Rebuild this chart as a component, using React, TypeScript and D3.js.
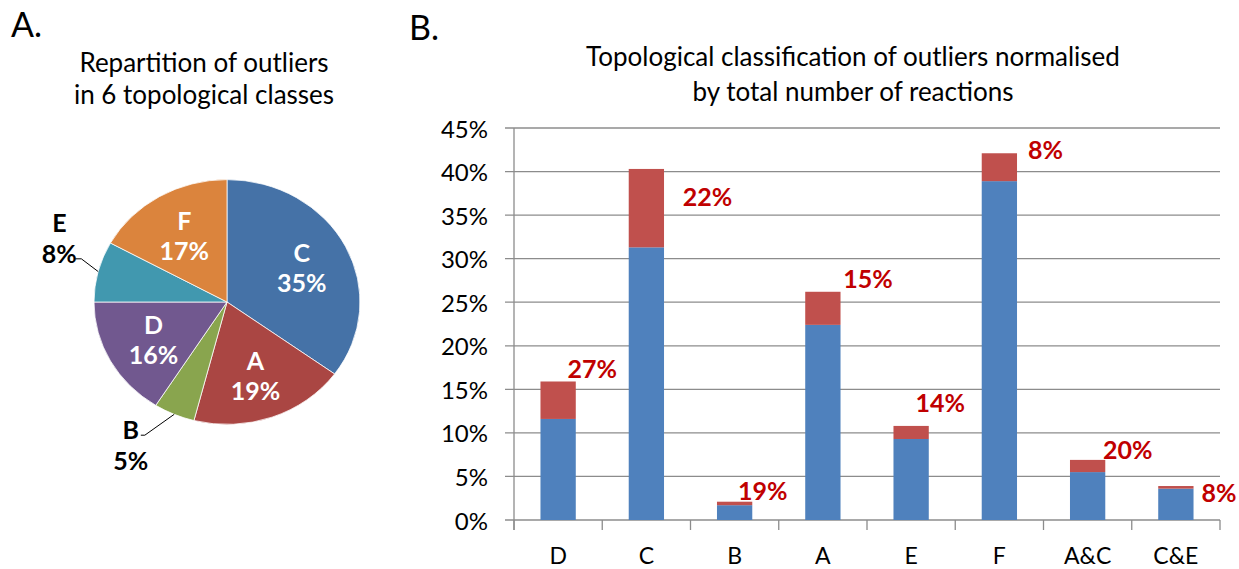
import React from 'react';
import * as d3 from 'd3';

// ---------- Data ----------
const pieClasses = ['C', 'A', 'B', 'D', 'E', 'F'];
const pieShares = [35, 19, 5, 16, 8, 17];
const pieColors = ['#4572A7', '#AA4643', '#89A54E', '#71588F', '#4198AF', '#DB843D'];
const pieOutsideLabels = ['B', 'E'];

const barCategories = ['D', 'C', 'B', 'A', 'E', 'F', 'A&C', 'C&E'];
const blueValues = [11.6, 31.3, 1.7, 22.4, 9.3, 38.9, 5.5, 3.6];
const redValues = [4.3, 9.0, 0.4, 3.8, 1.5, 3.2, 1.4, 0.3];
const redLabels = ['27%', '22%', '19%', '15%', '14%', '8%', '20%', '8%'];
const labelLevels = [17.5, 37.2, 3.45, 27.8, 13.5, 42.6, 8.15, 3.2];
const yTicks = [0, 5, 10, 15, 20, 25, 30, 35, 40, 45];

// ---------- Layout ----------
const W = 1239;
const H = 569;
const FONT = "Lato, 'Open Sans', sans-serif";
const labelDx = [34, 61, 28, 45, 29, 46, 40, 43];

export default function App() {
  // Pie
  const pcx = 227, pcy = 302, R = 133, ry = 122.4;
  const sy = ry / R;
  const pieData = pieClasses.map((c, i) => ({ c, v: pieShares[i], color: pieColors[i] }));
  const arcs = d3.pie<any>().sort(null).value((d) => d.v).startAngle(0).endAngle(2 * Math.PI)(pieData);
  const arcGen = d3.arc<any>().innerRadius(0).outerRadius(R);
  const polar = (ang: number, r: number) => [pcx + r * Math.sin(ang), pcy - r * Math.cos(ang) * sy];

  // Bars
  const x = d3.scaleBand().domain(barCategories).range([514, 1220]).paddingInner(0.6).paddingOuter(0.3);
  const y = d3.scaleLinear().domain([0, 45]).range([520, 128]);
  const step = x.step();
  const boundaries = d3.range(barCategories.length + 1).map((i) => 514 + i * step);

  return (
    <svg width={W} height={H} style={{ position: 'absolute', left: 0, top: 0, background: '#fff' }} fontFamily={FONT}>
      <rect x={0} y={0} width={W} height={H} fill="#fff" />
      {/* Panel letters */}
      <text x={11} y={37} fontSize={34} fill="#000">A.</text>
      <text x={409} y={40} fontSize={34} fill="#000">B.</text>

      {/* Pie title */}
      <text x={204} y={72} fontSize={26} textAnchor="middle" fill="#000">Repartition of outliers</text>
      <text x={204} y={104} fontSize={26} textAnchor="middle" fill="#000">in 6 topological classes</text>

      {/* Pie */}
      <g transform={`translate(${pcx},${pcy}) scale(1,${sy})`}>
        {arcs.map((a, i) => (
          <path key={i} d={arcGen(a) as string} fill={a.data.color} stroke="#fff" strokeWidth={0.8} />
        ))}
      </g>
      {arcs.map((a, i) => {
        const mid = (a.startAngle + a.endAngle) / 2;
        const outside = pieOutsideLabels.includes(a.data.c);
        if (!outside) {
          const [lx, ly] = polar(mid, 84);
          return (
            <g key={i} fill="#fff" fontWeight="bold" fontSize={25} textAnchor="middle">
              <text x={lx} y={ly - 15} dominantBaseline="central">{a.data.c}</text>
              <text x={lx} y={ly + 15} dominantBaseline="central">{a.data.v}%</text>
            </g>
          );
        }
        const ang = mid + (8.5 * Math.PI) / 180;
        const [lx, ly] = polar(ang, 182);
        const [ex, ey] = polar(mid, R);
        const isLeftUpper = Math.cos(mid) > 0 || mid > Math.PI * 1.4;
        const elbow = isLeftUpper ? [lx + 22, ly + 22] : [lx + 14, ly - 9];
        const end = isLeftUpper ? [lx + 16, ly + 22] : [lx + 10, ly - 9];
        return (
          <g key={i}>
            <path d={`M${ex},${ey}L${elbow[0]},${elbow[1]}L${end[0]},${end[1]}`} fill="none" stroke="#000" strokeWidth={1} />
            <g fill="#000" fontWeight="bold" fontSize={25} textAnchor="middle">
              <text x={lx} y={ly - 15} dominantBaseline="central">{a.data.c}</text>
              <text x={lx} y={ly + 16} dominantBaseline="central">{a.data.v}%</text>
            </g>
          </g>
        );
      })}

      {/* Bar title */}
      <text x={853} y={66} fontSize={26} textAnchor="middle" fill="#000">Topological classification of outliers normalised</text>
      <text x={853} y={101} fontSize={26} textAnchor="middle" fill="#000">by total number of reactions</text>

      {/* Gridlines & y ticks */}
      {yTicks.map((t) => (
        <g key={t}>
          <line x1={505} x2={1220} y1={y(t)} y2={y(t)} stroke="#8c8c8c" strokeWidth={1.3} />
          <text x={488} y={y(t)} fontSize={24} textAnchor="end" dominantBaseline="central" fill="#000">{t}%</text>
        </g>
      ))}
      <line x1={514} x2={514} y1={y(45)} y2={530} stroke="#8c8c8c" strokeWidth={1.3} />
      {boundaries.map((b, i) => (
        <line key={i} x1={b} x2={b} y1={520} y2={530} stroke="#8c8c8c" strokeWidth={1.3} />
      ))}

      {/* Bars */}
      {barCategories.map((c, i) => {
        const bx = x(c) as number;
        const bw = x.bandwidth();
        const total = blueValues[i] + redValues[i];
        return (
          <g key={c}>
            <rect x={bx} y={y(blueValues[i])} width={bw} height={y(0) - y(blueValues[i])} fill="#4F81BD" />
            <rect x={bx} y={y(total)} width={bw} height={y(blueValues[i]) - y(total)} fill="#C0504D" />
            <text x={bx + bw / 2 + labelDx[i]} y={y(labelLevels[i])} fontSize={25} fontWeight="bold" fill="#C00000" textAnchor="middle" dominantBaseline="central">{redLabels[i]}</text>
            <text x={bx + bw / 2} y={555} fontSize={23} textAnchor="middle" dominantBaseline="central" fill="#000">{c}</text>
          </g>
        );
      })}
    </svg>
  );
}
